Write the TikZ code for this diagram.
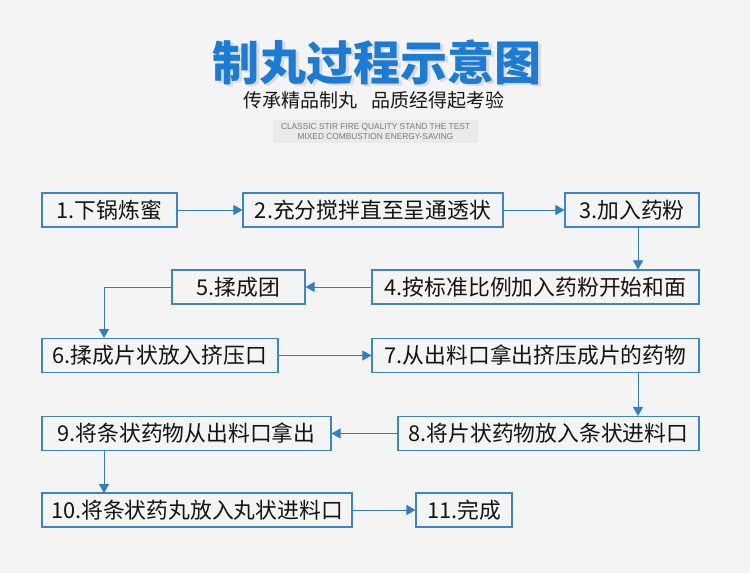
\documentclass[tikz,border=0pt]{standalone}
\usepackage{fontspec}
\setmainfont{Noto Sans CJK SC}
\newfontfamily\latinsans{Liberation Sans}
\usetikzlibrary{arrows.meta,calc}
\definecolor{bgc}{HTML}{F4F4F4}
\definecolor{titleblue}{HTML}{1C7BD5}
\definecolor{boxblue}{HTML}{3A86C8}
\definecolor{arrblue}{HTML}{2F7FC6}
\definecolor{engbg}{HTML}{EAEAEA}
\definecolor{enggray}{HTML}{7A7A7A}
\tikzset{
  x=1pt,y=-1pt,
  stepbox/.style={draw=boxblue, line width=1.1pt, fill=bgc, inner sep=0pt,
    minimum height=34pt, text=black!92, font=\fontsize{21.8}{24}\selectfont},
  arr/.style={draw=arrblue, line width=1pt, -{Triangle[width=10pt,length=9pt]}},
}
\begin{document}
\begin{tikzpicture}
\fill[bgc] (0,0) rectangle (750,573);
\useasboundingbox (0,0) rectangle (750,573);
% title
\node[text=black!14, font=\fontsize{47}{50}\selectfont\bfseries] (titleshadow) at (379.5,64.5) {制丸过程示意图};
\node[text=titleblue, font=\fontsize{47}{50}\selectfont\bfseries] (title) at (377,62) {制丸过程示意图};
\node[text=black!90, font=\fontsize{19}{22}\selectfont] (sub) at (374,100) {传承精品制丸\hspace{15pt}品质经得起考验};
\fill[engbg] (273,120) rectangle (478,143);
\node[text=enggray, font=\latinsans\fontsize{8.6}{10.5}\selectfont, align=center, inner sep=0pt] (eng) at (375.5,131.5)
  {\scalebox{0.97}[1]{CLASSIC STIR FIRE QUALITY STAND THE TEST}\\\scalebox{0.97}[1]{MIXED COMBUSTION ENERGY-SAVING}};
% boxes
\node[stepbox, minimum width=135pt] (b1) at (109.5,210) {1.下锅炼蜜};
\node[stepbox, minimum width=260pt] (b2) at (373,210) {2.充分搅拌直至呈通透状};
\node[stepbox, minimum width=134pt] (b3) at (632,210) {3.加入药粉};
\node[stepbox, minimum width=327pt] (b4) at (535.5,287) {4.按标准比例加入药粉开始和面};
\node[stepbox, minimum width=133pt] (b5) at (238.5,287) {5.揉成团};
\node[stepbox, minimum width=236pt] (b6) at (160,355.5) {6.揉成片状放入挤压口};
\node[stepbox, minimum width=327pt] (b7) at (535.5,355.5) {7.从出料口拿出挤压成片的药物};
\node[stepbox, minimum width=301pt] (b8) at (548.5,433.5) {8.将片状药物放入条状进料口};
\node[stepbox, minimum width=289pt] (b9) at (186.5,433.5) {9.将条状药物从出料口拿出};
\node[stepbox, minimum width=310pt] (b10) at (197,510) {10.将条状药丸放入丸状进料口};
\node[stepbox, minimum width=96pt] (b11) at (464,510) {11.完成};
% helper coordinates
\coordinate (k6) at (104,338);
\coordinate (k10) at (104,493);
% connectors
\draw[arr] (b1.east) -- (b2.west);
\draw[arr] (b2.east) -- (b3.west);
\draw[arr] ([xshift=6pt]b3.south) -- ([xshift=6pt]b3.south |- b4.north);
\draw[arr] (b4.west) -- (b5.east);
\draw[arr] (b5.west) -| (k6);
\draw[arr] (b6.east) -- (b7.west);
\draw[arr] ([xshift=102.5pt]b7.south) -- ([xshift=102.5pt]b7.south |- b8.north);
\draw[arr] (b8.west) -- (b9.east);
\draw[arr] (b9.south -| k10) -- (k10);
\draw[arr] (b10.east) -- (b11.west);
\end{tikzpicture}
\end{document}
